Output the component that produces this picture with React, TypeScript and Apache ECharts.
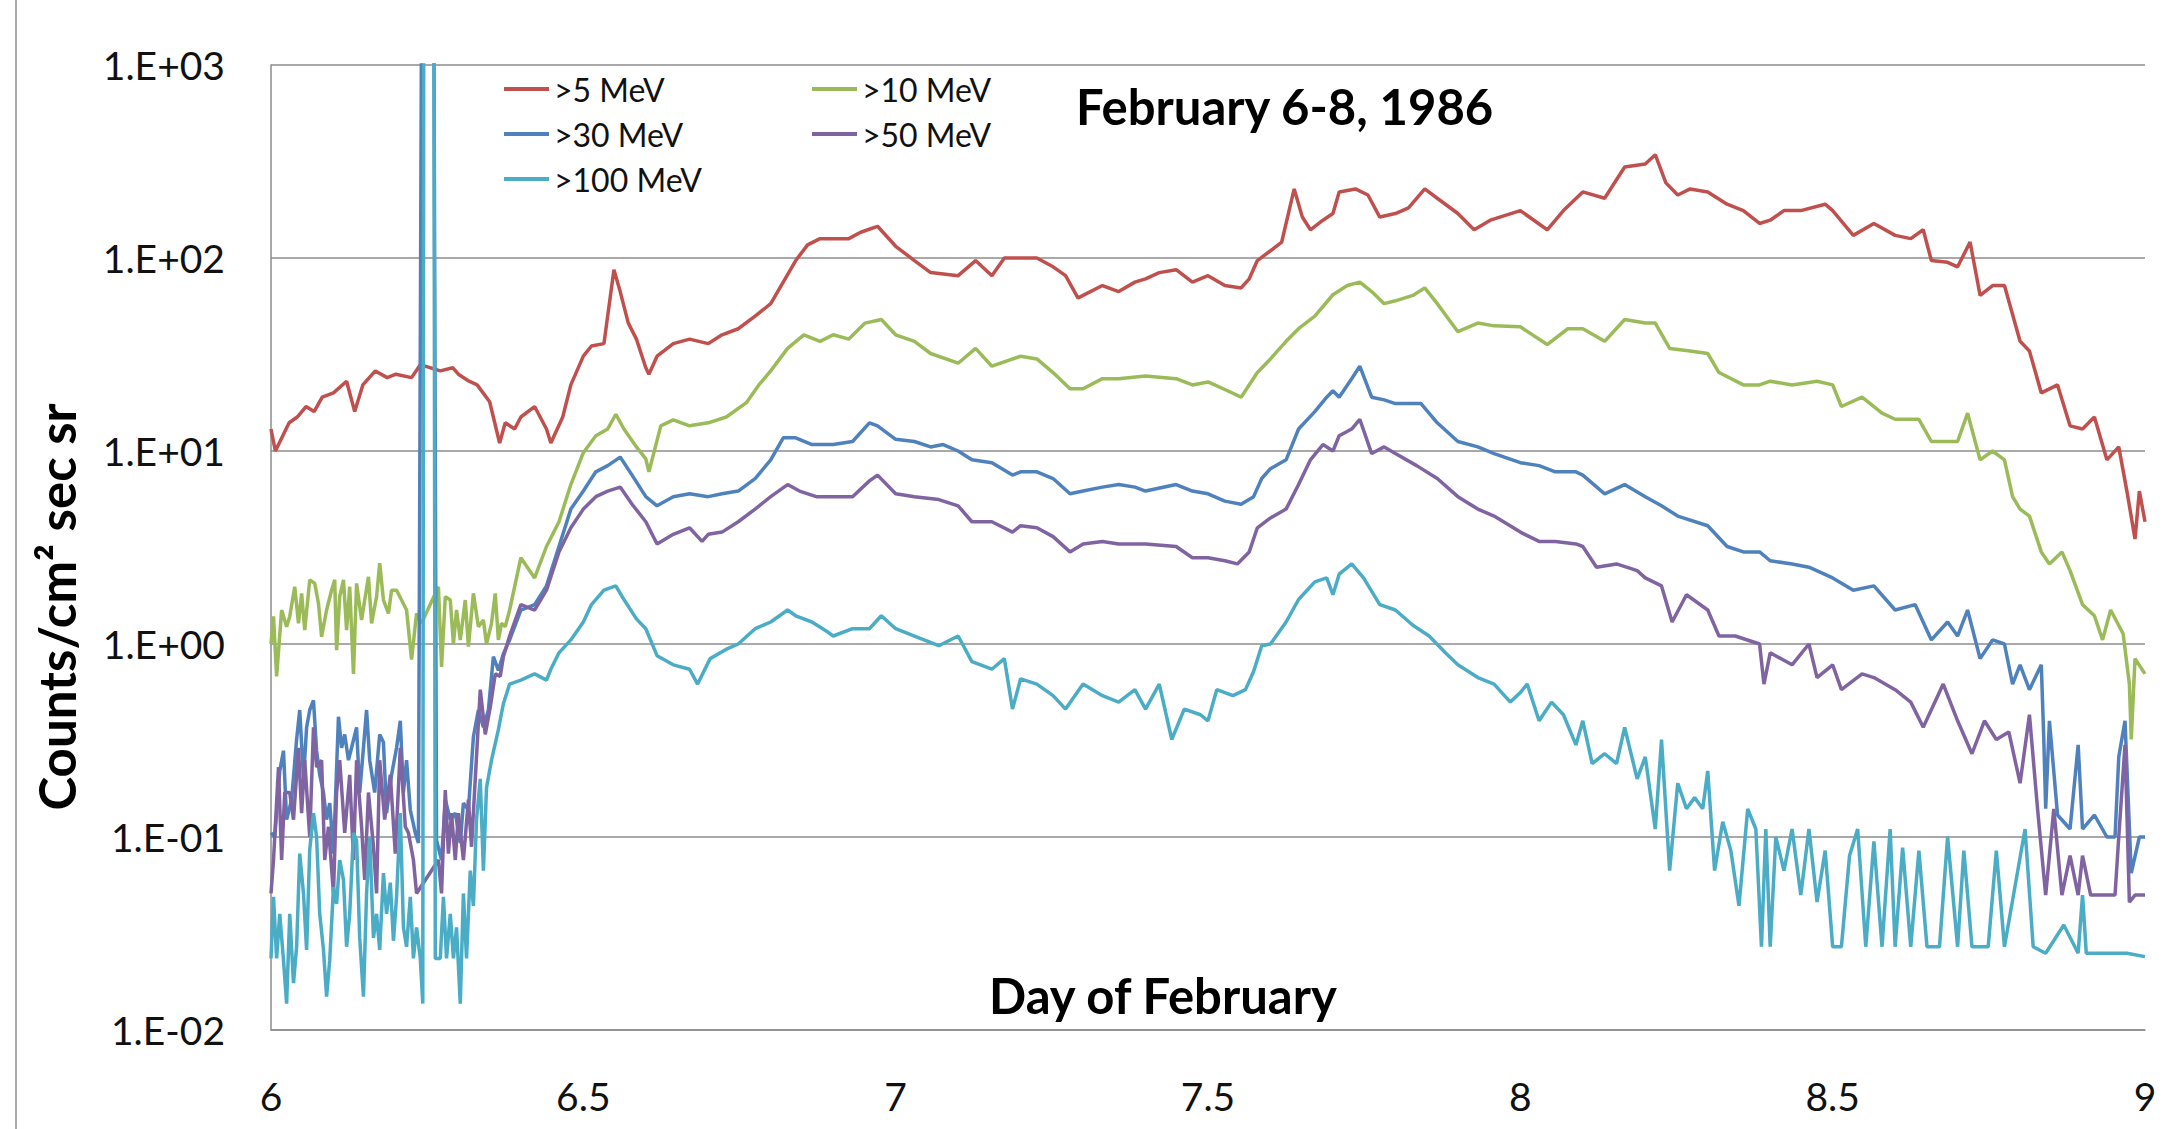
import React, { useEffect, useRef } from 'react';
import * as echarts from 'echarts';

const seriesNames = ['>5 MeV', '>10 MeV', '>30 MeV', '>50 MeV', '>100 MeV'];
const seriesColors = ['#C0504D', '#9BBB59', '#4F81BD', '#8064A2', '#4BACC6'];
const yTickLabels = ['1.E-02', '1.E-01', '1.E+00', '1.E+01', '1.E+02', '1.E+03'];
const xMin = 6;
const xMax = 9;
const xStep = 0.5;

// [day of February, counts/cm² sec sr]
const mev5: [number, number][] = [[6.000,13],[6.007,10],[6.029,14],[6.042,15],[6.056,17],[6.069,16],[6.082,19],[6.100,20],[6.121,23],[6.134,16],[6.147,22],[6.167,26],[6.186,24],[6.200,25],[6.225,24],[6.239,28],[6.271,26],[6.291,27],[6.300,25],[6.317,23],[6.330,22],[6.350,18],[6.366,11],[6.375,14],[6.390,13],[6.400,15],[6.422,17],[6.441,13],[6.448,11],[6.467,15],[6.480,22],[6.500,31],[6.513,35],[6.533,36],[6.549,87],[6.559,67],[6.572,46],[6.585,38],[6.600,27],[6.605,25],[6.618,31],[6.644,36],[6.670,38],[6.700,36],[6.722,40],[6.748,43],[6.775,50],[6.800,58],[6.820,75],[6.840,97],[6.859,117],[6.879,126],[6.900,126],[6.925,126],[6.944,136],[6.971,146],[7.000,115],[7.030,97],[7.056,84],[7.100,81],[7.128,97],[7.154,81],[7.174,100],[7.200,100],[7.226,100],[7.252,90],[7.272,81],[7.292,62],[7.300,64],[7.331,72],[7.357,67],[7.383,75],[7.400,78],[7.422,84],[7.449,87],[7.475,75],[7.500,81],[7.527,72],[7.553,70],[7.566,78],[7.579,97],[7.600,109],[7.618,121],[7.638,228],[7.651,163],[7.664,140],[7.684,157],[7.700,170],[7.710,220],[7.736,228],[7.756,212],[7.775,163],[7.800,170],[7.821,182],[7.847,228],[7.867,204],[7.900,170],[7.926,140],[7.952,157],[8.000,176],[8.043,140],[8.069,176],[8.100,220],[8.135,204],[8.167,296],[8.200,307],[8.216,343],[8.233,245],[8.252,212],[8.272,228],[8.300,220],[8.331,190],[8.357,176],[8.383,151],[8.400,157],[8.422,176],[8.449,176],[8.488,190],[8.500,176],[8.533,131],[8.566,151],[8.600,131],[8.625,126],[8.645,140],[8.658,97],[8.684,95],[8.700,90],[8.720,121],[8.736,64],[8.756,72],[8.775,72],[8.800,37],[8.815,33],[8.834,20],[8.860,22],[8.880,13.5],[8.900,13],[8.919,15],[8.939,9],[8.958,10.5],[8.971,6.2],[8.984,3.5],[8.991,6.2],[9.000,4.3]];

const mev10: [number, number][] = [[6.000,1.0],[6.004,1.39],[6.009,0.68],[6.017,1.5],[6.025,1.23],[6.030,1.39],[6.038,1.98],[6.044,1.28],[6.049,1.83],[6.054,1.18],[6.062,2.15],[6.070,2.06],[6.076,1.62],[6.081,1.09],[6.089,1.5],[6.097,1.9],[6.102,2.15],[6.105,0.93],[6.110,1.76],[6.116,2.15],[6.121,1.18],[6.126,1.98],[6.132,0.7],[6.137,2.06],[6.145,1.33],[6.150,1.69],[6.156,2.23],[6.161,1.28],[6.169,1.76],[6.174,2.62],[6.180,1.69],[6.188,1.44],[6.193,1.9],[6.201,1.9],[6.209,1.69],[6.217,1.5],[6.225,0.83],[6.233,1.44],[6.241,1.28],[6.268,1.98],[6.273,0.76],[6.279,1.76],[6.287,1.69],[6.292,1.0],[6.297,1.5],[6.303,1.05],[6.311,1.69],[6.316,0.97],[6.324,1.83],[6.332,1.23],[6.340,1.33],[6.345,1.0],[6.353,1.28],[6.359,1.83],[6.364,1.05],[6.369,1.28],[6.375,1.23],[6.382,1.5],[6.400,2.8],[6.422,2.2],[6.441,3.2],[6.461,4.3],[6.480,6.7],[6.500,9.8],[6.520,12],[6.539,13],[6.552,15.5],[6.565,13],[6.585,10.5],[6.600,9.1],[6.605,7.8],[6.624,13.5],[6.644,14.5],[6.670,13.5],[6.700,14],[6.729,15],[6.761,17.8],[6.781,22],[6.800,26],[6.827,34],[6.853,40],[6.879,37],[6.900,40],[6.925,38],[6.951,46],[6.977,48],[7.000,40],[7.030,37],[7.056,32],[7.100,28.5],[7.128,34],[7.154,27.5],[7.200,31],[7.226,30],[7.252,25.5],[7.279,21],[7.300,21],[7.331,23.7],[7.357,23.7],[7.400,24.5],[7.449,23.7],[7.475,22],[7.500,22.8],[7.533,20.4],[7.553,19],[7.579,25.5],[7.600,30],[7.625,37],[7.645,43],[7.671,50],[7.700,64.5],[7.723,72],[7.743,75],[7.762,67],[7.782,58],[7.800,60],[7.828,64],[7.847,70],[7.867,58],[7.900,41.5],[7.932,46],[7.958,44.5],[8.000,44],[8.043,35.6],[8.076,43],[8.100,43],[8.135,37],[8.167,48],[8.200,46],[8.216,46],[8.239,34],[8.272,33],[8.300,32],[8.318,25.5],[8.357,22],[8.383,22],[8.400,23],[8.435,22],[8.475,23],[8.500,22],[8.514,17],[8.547,19],[8.579,15.7],[8.600,14.6],[8.638,14.6],[8.658,11.2],[8.684,11.2],[8.700,11.2],[8.716,15.7],[8.736,9],[8.756,10],[8.775,9],[8.788,5.8],[8.800,5],[8.815,4.6],[8.834,3],[8.847,2.6],[8.867,3],[8.880,2.4],[8.900,1.6],[8.919,1.4],[8.932,1.05],[8.945,1.5],[8.965,1.13],[8.975,0.62],[8.978,0.32],[8.984,0.84],[9.000,0.7]];

const mev30: [number, number][] = [[6.000,0.105],[6.006,0.10],[6.014,0.22],[6.020,0.28],[6.025,0.123],[6.033,0.156],[6.041,0.32],[6.046,0.455],[6.052,0.20],[6.057,0.37],[6.062,0.455],[6.068,0.51],[6.073,0.28],[6.078,0.21],[6.084,0.17],[6.089,0.123],[6.094,0.15],[6.100,0.082],[6.108,0.42],[6.113,0.29],[6.118,0.34],[6.124,0.25],[6.129,0.29],[6.137,0.37],[6.142,0.17],[6.148,0.29],[6.153,0.455],[6.158,0.25],[6.166,0.17],[6.174,0.34],[6.180,0.31],[6.185,0.133],[6.193,0.21],[6.201,0.29],[6.207,0.40],[6.212,0.17],[6.217,0.25],[6.223,0.138],[6.231,0.105],[6.236,0.093],[6.243,100000],[6.259,100000],[6.265,0.096],[6.273,0.076],[6.279,0.156],[6.287,0.123],[6.295,0.133],[6.303,0.093],[6.308,0.15],[6.316,0.138],[6.324,0.33],[6.332,0.455],[6.340,0.37],[6.348,0.455],[6.356,0.86],[6.364,0.73],[6.372,0.89],[6.382,1.05],[6.400,1.5],[6.422,1.6],[6.441,2.0],[6.461,3.2],[6.480,5],[6.500,6.2],[6.520,7.8],[6.539,8.4],[6.559,9.3],[6.578,7.5],[6.600,5.8],[6.618,5.2],[6.644,5.8],[6.670,6],[6.700,5.8],[6.722,6],[6.748,6.2],[6.775,7.2],[6.800,9],[6.820,11.7],[6.840,11.7],[6.866,10.8],[6.900,10.8],[6.931,11.2],[6.958,14],[6.971,13.5],[7.000,11.5],[7.030,11.2],[7.056,10.5],[7.076,10.8],[7.100,10],[7.122,9],[7.154,8.7],[7.187,7.5],[7.200,7.8],[7.226,7.8],[7.252,7.2],[7.279,6],[7.300,6.2],[7.331,6.5],[7.357,6.7],[7.383,6.5],[7.400,6.2],[7.449,6.7],[7.475,6.2],[7.500,6],[7.527,5.5],[7.553,5.3],[7.573,5.8],[7.586,7.2],[7.600,8.1],[7.625,9],[7.645,13],[7.671,16],[7.690,19],[7.700,20.5],[7.710,19],[7.730,23.7],[7.743,27.5],[7.762,19],[7.782,18.4],[7.800,17.6],[7.841,17.6],[7.867,14],[7.900,11.2],[7.932,10.5],[7.958,9.7],[8.000,8.7],[8.030,8.4],[8.056,7.8],[8.089,7.8],[8.100,7.5],[8.135,6],[8.167,6.7],[8.200,5.8],[8.226,5.2],[8.252,4.6],[8.300,4.1],[8.331,3.2],[8.357,3],[8.383,3],[8.400,2.7],[8.435,2.6],[8.462,2.5],[8.500,2.2],[8.533,1.9],[8.566,2.0],[8.600,1.5],[8.632,1.6],[8.658,1.05],[8.684,1.3],[8.700,1.1],[8.716,1.5],[8.736,0.84],[8.756,1.05],[8.775,1.0],[8.788,0.62],[8.800,0.78],[8.815,0.58],[8.834,0.78],[8.838,0.32],[8.841,0.14],[8.847,0.4],[8.860,0.13],[8.880,0.11],[8.893,0.3],[8.900,0.11],[8.919,0.13],[8.939,0.1],[8.952,0.1],[8.958,0.26],[8.968,0.4],[8.978,0.065],[8.991,0.1],[9.000,0.1]];

const mev50: [number, number][] = [[6.000,0.051],[6.004,0.076],[6.012,0.23],[6.017,0.076],[6.022,0.17],[6.030,0.17],[6.036,0.123],[6.044,0.29],[6.049,0.133],[6.054,0.25],[6.062,0.10],[6.068,0.37],[6.073,0.23],[6.081,0.25],[6.086,0.076],[6.092,0.113],[6.100,0.051],[6.105,0.17],[6.110,0.25],[6.118,0.105],[6.126,0.21],[6.132,0.076],[6.137,0.25],[6.145,0.113],[6.150,0.06],[6.156,0.17],[6.164,0.089],[6.169,0.051],[6.174,0.25],[6.182,0.123],[6.191,0.21],[6.199,0.082],[6.207,0.29],[6.215,0.113],[6.220,0.105],[6.228,0.076],[6.233,0.051],[6.268,0.076],[6.273,0.051],[6.279,0.175],[6.284,0.082],[6.289,0.133],[6.295,0.076],[6.300,0.133],[6.308,0.076],[6.316,0.156],[6.321,0.089],[6.327,0.20],[6.335,0.58],[6.343,0.34],[6.351,0.47],[6.359,0.70],[6.367,0.68],[6.372,0.86],[6.382,1.1],[6.400,1.6],[6.422,1.5],[6.441,1.9],[6.461,3],[6.480,4],[6.500,5],[6.520,5.8],[6.539,6.2],[6.559,6.5],[6.578,5.3],[6.600,4.3],[6.618,3.3],[6.644,3.7],[6.670,4],[6.690,3.4],[6.700,3.7],[6.722,3.8],[6.748,4.3],[6.775,5],[6.800,5.8],[6.827,6.7],[6.846,6.2],[6.873,5.8],[6.900,5.8],[6.931,5.8],[6.958,7],[6.971,7.5],[7.000,6],[7.030,5.8],[7.069,5.6],[7.100,5.2],[7.122,4.3],[7.154,4.3],[7.187,3.8],[7.200,4.1],[7.226,4],[7.252,3.6],[7.279,3],[7.300,3.3],[7.331,3.4],[7.357,3.3],[7.400,3.3],[7.449,3.2],[7.475,2.8],[7.500,2.8],[7.527,2.7],[7.547,2.6],[7.566,3],[7.579,4],[7.600,4.5],[7.625,5],[7.645,6.7],[7.664,9],[7.684,10.8],[7.700,10],[7.710,12],[7.730,13],[7.743,14.6],[7.762,9.7],[7.782,10.5],[7.800,9.7],[7.834,8.4],[7.867,7.2],[7.900,5.8],[7.932,5],[7.958,4.6],[8.000,3.8],[8.030,3.4],[8.056,3.4],[8.089,3.3],[8.100,3.2],[8.122,2.5],[8.154,2.6],[8.187,2.4],[8.200,2.2],[8.226,2.0],[8.243,1.3],[8.266,1.8],[8.300,1.5],[8.318,1.1],[8.344,1.1],[8.383,1.0],[8.390,0.62],[8.400,0.9],[8.435,0.78],[8.462,1.0],[8.475,0.67],[8.500,0.78],[8.514,0.58],[8.547,0.7],[8.566,0.67],[8.600,0.58],[8.625,0.5],[8.645,0.37],[8.677,0.62],[8.700,0.4],[8.723,0.27],[8.743,0.4],[8.762,0.32],[8.782,0.35],[8.800,0.19],[8.815,0.43],[8.828,0.14],[8.841,0.05],[8.854,0.14],[8.867,0.05],[8.880,0.08],[8.893,0.05],[8.900,0.08],[8.913,0.05],[8.932,0.05],[8.952,0.05],[8.958,0.1],[8.968,0.3],[8.975,0.046],[8.984,0.05],[9.000,0.05]];

const mev100: [number, number][] = [[6.000,0.0235],[6.004,0.049],[6.009,0.0235],[6.014,0.040],[6.020,0.023],[6.025,0.0137],[6.030,0.040],[6.036,0.0175],[6.041,0.027],[6.046,0.082],[6.052,0.051],[6.057,0.026],[6.062,0.086],[6.068,0.133],[6.073,0.10],[6.078,0.040],[6.084,0.026],[6.089,0.0149],[6.094,0.023],[6.100,0.055],[6.105,0.045],[6.110,0.076],[6.116,0.060],[6.121,0.027],[6.126,0.040],[6.132,0.105],[6.137,0.096],[6.142,0.030],[6.148,0.0149],[6.153,0.051],[6.158,0.10],[6.164,0.030],[6.169,0.040],[6.174,0.026],[6.180,0.065],[6.185,0.040],[6.191,0.058],[6.196,0.029],[6.201,0.049],[6.207,0.133],[6.212,0.034],[6.217,0.027],[6.223,0.049],[6.228,0.0235],[6.233,0.034],[6.239,0.0235],[6.243,0.0137],[6.245,100000],[6.260,100000],[6.263,0.0235],[6.271,0.0235],[6.276,0.049],[6.281,0.0235],[6.287,0.040],[6.292,0.0235],[6.297,0.034],[6.303,0.0137],[6.308,0.051],[6.313,0.0235],[6.319,0.067],[6.324,0.044],[6.329,0.123],[6.335,0.20],[6.340,0.067],[6.345,0.18],[6.353,0.25],[6.364,0.36],[6.372,0.49],[6.382,0.62],[6.400,0.65],[6.422,0.7],[6.441,0.65],[6.448,0.74],[6.461,0.9],[6.480,1.05],[6.500,1.3],[6.513,1.6],[6.533,1.9],[6.552,2.0],[6.565,1.7],[6.585,1.35],[6.600,1.2],[6.618,0.87],[6.644,0.78],[6.670,0.74],[6.683,0.62],[6.703,0.84],[6.729,0.94],[6.748,1.0],[6.775,1.2],[6.800,1.3],[6.827,1.5],[6.840,1.4],[6.866,1.3],[6.892,1.15],[6.900,1.1],[6.931,1.2],[6.958,1.2],[6.977,1.4],[7.000,1.2],[7.030,1.1],[7.069,0.98],[7.100,1.1],[7.122,0.81],[7.154,0.74],[7.174,0.84],[7.187,0.46],[7.200,0.66],[7.226,0.62],[7.252,0.54],[7.272,0.46],[7.300,0.62],[7.331,0.54],[7.357,0.5],[7.383,0.58],[7.400,0.46],[7.422,0.62],[7.442,0.32],[7.462,0.46],[7.488,0.43],[7.500,0.4],[7.514,0.58],[7.540,0.54],[7.560,0.58],[7.573,0.72],[7.586,0.98],[7.600,1.0],[7.625,1.3],[7.645,1.7],[7.671,2.1],[7.690,2.2],[7.700,1.8],[7.710,2.3],[7.730,2.6],[7.749,2.2],[7.775,1.6],[7.800,1.5],[7.828,1.25],[7.854,1.1],[7.880,0.9],[7.900,0.78],[7.932,0.67],[7.958,0.62],[7.984,0.5],[8.000,0.56],[8.011,0.62],[8.030,0.4],[8.050,0.5],[8.069,0.43],[8.089,0.3],[8.100,0.4],[8.115,0.24],[8.135,0.27],[8.154,0.24],[8.167,0.37],[8.187,0.2],[8.200,0.26],[8.216,0.11],[8.226,0.32],[8.239,0.067],[8.252,0.19],[8.266,0.14],[8.279,0.16],[8.292,0.14],[8.300,0.22],[8.311,0.067],[8.324,0.12],[8.337,0.085],[8.350,0.044],[8.364,0.14],[8.377,0.11],[8.386,0.027],[8.393,0.11],[8.400,0.027],[8.409,0.1],[8.422,0.067],[8.435,0.11],[8.449,0.05],[8.462,0.11],[8.475,0.046],[8.488,0.085],[8.500,0.027],[8.514,0.027],[8.527,0.08],[8.540,0.11],[8.553,0.027],[8.566,0.095],[8.579,0.027],[8.592,0.11],[8.600,0.027],[8.612,0.088],[8.625,0.027],[8.638,0.085],[8.651,0.027],[8.671,0.027],[8.684,0.1],[8.700,0.027],[8.710,0.085],[8.723,0.027],[8.749,0.027],[8.762,0.085],[8.775,0.027],[8.808,0.11],[8.821,0.027],[8.841,0.025],[8.870,0.035],[8.893,0.025],[8.900,0.05],[8.906,0.025],[8.939,0.025],[8.971,0.025],[9.000,0.024]];

const seriesData = [mev5, mev10, mev30, mev50, mev100];

const chartTitle = 'February 6-8, 1986';
const xAxisTitle = 'Day of February';
const yAxisTitle = 'Counts/cm² sec sr';

const FONT = 'Lato, "Open Sans", sans-serif';

export default function App() {
  const ref = useRef<HTMLDivElement>(null);
  useEffect(() => {
    if (!ref.current) return;
    const chart = echarts.init(ref.current, null, { renderer: 'svg' });
    const legendPos = [
      { left: 504, top: 73 },
      { left: 812, top: 73 },
      { left: 504, top: 118 },
      { left: 812, top: 118 },
      { left: 504, top: 163 },
    ];
    const option: any = {
      animation: false,
      backgroundColor: '#ffffff',
      grid: { left: 271, right: 32, top: 65, bottom: 99, containLabel: false },
      legend: seriesNames.map((n, i) => ({
        data: [n],
        left: legendPos[i].left,
        top: legendPos[i].top,
        icon: 'rect',
        itemWidth: 45,
        itemHeight: 4,
        padding: 0,
        selectedMode: false,
        textStyle: { fontSize: 32, fontFamily: FONT, color: '#111', lineHeight: 32 },
      })),
      xAxis: {
        type: 'value',
        min: xMin,
        max: xMax,
        interval: xStep,
        axisLine: { show: true, lineStyle: { color: '#8c8c8c', width: 1.5 } },
        axisTick: { show: false },
        splitLine: { show: false },
        axisLabel: { fontSize: 39, fontFamily: FONT, color: '#111', margin: 46 },
      },
      yAxis: {
        type: 'log',
        logBase: 10,
        min: 0.01,
        max: 1000,
        axisLine: { show: true, lineStyle: { color: '#8c8c8c', width: 1.5 } },
        axisTick: { show: false },
        minorTick: { show: false },
        splitLine: { show: true, lineStyle: { color: '#8c8c8c', width: 1.5 } },
        axisLabel: {
          fontSize: 39,
          fontFamily: FONT,
          color: '#111',
          margin: 46,
          formatter: (v: number) => {
            const e = Math.round(Math.log10(v));
            return yTickLabels[e + 2] ?? '';
          },
        },
      },
      series: seriesNames.map((n, i) => ({
        name: n,
        type: 'line',
        showSymbol: false,
        symbol: 'none',
        clip: true,
        color: seriesColors[i],
        lineStyle: { width: 3.5, color: seriesColors[i] },
        data: seriesData[i],
      })),
      graphic: [
        {
          type: 'line',
          shape: { x1: 16, y1: 0, x2: 16, y2: 1129 },
          style: { stroke: '#aaaaaa', lineWidth: 2 },
        },
        {
          type: 'text',
          x: 1076,
          y: 106,
          style: {
            text: chartTitle,
            fontSize: 49,
            fontWeight: 'bold',
            fontFamily: FONT,
            fill: '#000',
            align: 'left',
            verticalAlign: 'middle',
          },
        },
        {
          type: 'text',
          x: 989,
          y: 995,
          style: {
            text: xAxisTitle,
            fontSize: 49,
            fontWeight: 'bold',
            fontFamily: FONT,
            fill: '#000',
            align: 'left',
            verticalAlign: 'middle',
          },
        },
        {
          type: 'text',
          x: 56,
          y: 607,
          rotation: Math.PI / 2,
          style: {
            text: yAxisTitle,
            fontSize: 51,
            fontWeight: 'bold',
            fontFamily: FONT,
            fill: '#000',
            align: 'center',
            verticalAlign: 'middle',
          },
        },
      ],
    };
    chart.setOption(option);
    return () => chart.dispose();
  }, []);
  return (
    <div
      ref={ref}
      style={{ position: 'absolute', left: 0, top: 0, width: 2177, height: 1129, background: '#fff' }}
    />
  );
}
